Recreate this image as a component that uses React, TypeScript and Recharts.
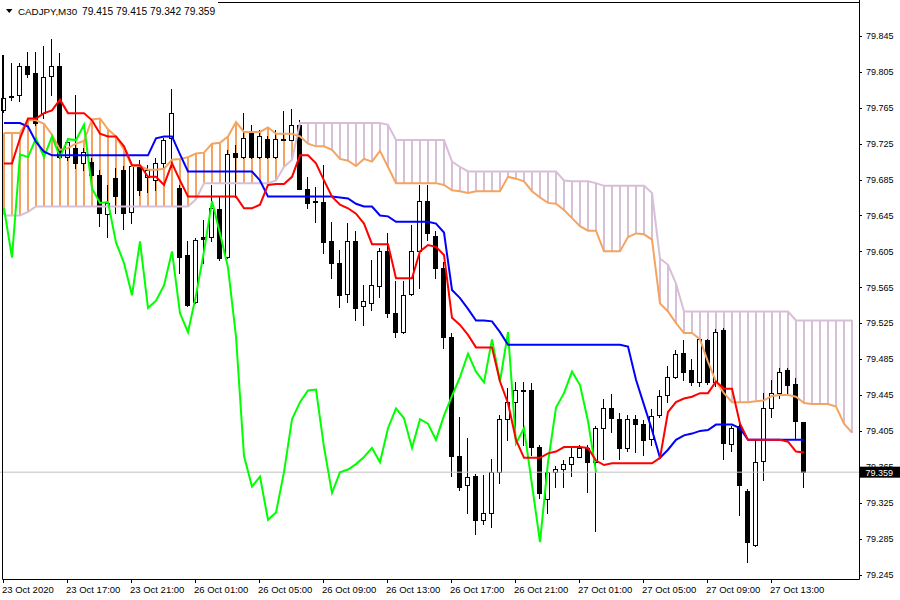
import React from "react";
import { ComposedChart, Bar, Line, XAxis, YAxis, ReferenceLine } from "recharts";

// CADJPY M30 candles (bar 0 = 23 Oct 13:00)
const opens = [
  79.763, 79.777, 79.779, 79.811, 79.804, 79.759, 79.800, 79.812, 79.710, 79.720,
  79.703, 79.705, 79.690, 79.647, 79.687, 79.696, 79.649, 79.700, 79.688, 79.684,
  79.703, 79.731, 79.676, 79.601, 79.549, 79.621, 79.621, 79.652, 79.599, 79.715,
  79.710, 79.737, 79.710, 79.730, 79.710, 79.730, 79.729, 79.746, 79.675, 79.661,
  79.660, 79.616, 79.592, 79.557, 79.616, 79.544, 79.547, 79.566, 79.605, 79.536,
  79.515, 79.557, 79.605, 79.661, 79.622, 79.586, 79.510, 79.377, 79.345, 79.355,
  79.306, 79.314, 79.359, 79.418, 79.437, 79.449, 79.451, 79.387, 79.329, 79.359,
  79.362, 79.368, 79.376, 79.386, 79.370, 79.408, 79.430, 79.418, 79.386, 79.418,
  79.413, 79.396, 79.423, 79.445, 79.465, 79.492, 79.473, 79.459, 79.506, 79.460,
  79.517, 79.390, 79.411, 79.338, 79.278, 79.372, 79.430, 79.447, 79.473, 79.457,
  79.415,
];
const highs = [
  79.824, 79.815, 79.815, 79.827, 79.827, 79.834, 79.842, 79.826, 79.731, 79.779,
  79.720, 79.709, 79.696, 79.679, 79.698, 79.700, 79.705, 79.707, 79.701, 79.709,
  79.731, 79.786, 79.679, 79.616, 79.620, 79.640, 79.679, 79.666, 79.718, 79.723,
  79.759, 79.746, 79.740, 79.733, 79.740, 79.761, 79.764, 79.751, 79.688, 79.677,
  79.701, 79.638, 79.606, 79.637, 79.628, 79.567, 79.595, 79.609, 79.626, 79.572,
  79.572, 79.634, 79.679, 79.679, 79.628, 79.593, 79.514, 79.420, 79.397, 79.357,
  79.356, 79.374, 79.423, 79.453, 79.460, 79.459, 79.458, 79.389, 79.363, 79.366,
  79.373, 79.386, 79.389, 79.389, 79.411, 79.441, 79.446, 79.425, 79.423, 79.423,
  79.417, 79.429, 79.451, 79.477, 79.495, 79.506, 79.485, 79.508, 79.507, 79.518,
  79.520, 79.411, 79.414, 79.340, 79.395, 79.447, 79.462, 79.475, 79.475, 79.464,
  79.415,
];
const lows = [
  79.760, 79.774, 79.772, 79.799, 79.746, 79.754, 79.779, 79.709, 79.707, 79.698,
  79.696, 79.684, 79.633, 79.621, 79.648, 79.630, 79.637, 79.668, 79.671, 79.673,
  79.699, 79.699, 79.581, 79.544, 79.548, 79.592, 79.617, 79.595, 79.598, 79.666,
  79.709, 79.709, 79.709, 79.709, 79.709, 79.729, 79.729, 79.675, 79.653, 79.638,
  79.603, 79.575, 79.543, 79.549, 79.528, 79.523, 79.540, 79.554, 79.532, 79.510,
  79.514, 79.556, 79.564, 79.618, 79.575, 79.497, 79.355, 79.339, 79.314, 79.290,
  79.301, 79.298, 79.347, 79.395, 79.393, 79.389, 79.378, 79.330, 79.313, 79.343,
  79.343, 79.355, 79.376, 79.337, 79.293, 79.374, 79.404, 79.374, 79.383, 79.381,
  79.378, 79.389, 79.420, 79.437, 79.464, 79.462, 79.456, 79.455, 79.457, 79.455,
  79.374, 79.383, 79.311, 79.259, 79.277, 79.350, 79.421, 79.442, 79.447, 79.397,
  79.342,
];
const closes = [
  79.776, 79.778, 79.812, 79.803, 79.748, 79.799, 79.812, 79.710, 79.727, 79.703,
  79.716, 79.690, 79.648, 79.659, 79.667, 79.648, 79.700, 79.673, 79.696, 79.703,
  79.729, 79.759, 79.599, 79.545, 79.618, 79.619, 79.653, 79.598, 79.713, 79.710,
  79.731, 79.710, 79.733, 79.710, 79.730, 79.729, 79.746, 79.675, 79.659, 79.660,
  79.615, 79.592, 79.556, 79.616, 79.542, 79.550, 79.567, 79.605, 79.536, 79.515,
  79.556, 79.605, 79.661, 79.625, 79.587, 79.510, 79.377, 79.343, 79.354, 79.306,
  79.314, 79.359, 79.418, 79.437, 79.450, 79.451, 79.387, 79.336, 79.359, 79.362,
  79.368, 79.376, 79.386, 79.370, 79.408, 79.430, 79.419, 79.386, 79.418, 79.413,
  79.395, 79.422, 79.444, 79.465, 79.491, 79.471, 79.459, 79.507, 79.460, 79.515,
  79.391, 79.408, 79.345, 79.281, 79.370, 79.431, 79.447, 79.471, 79.456, 79.416,
  79.359,
];

// Ichimoku lines as drawn on the chart
const tenkan = [
  79.703, 79.703, 79.731, 79.753, 79.753, 79.759, 79.762, 79.774, 79.759, 79.759,
  79.759, 79.751, 79.736, 79.733, 79.733, 79.722, 79.701, 79.701, 79.688, 79.688,
  79.679, 79.703, 79.684, 79.666, 79.666, 79.666, 79.666, 79.666, 79.666, 79.666,
  79.653, 79.653, 79.657, 79.679, 79.680, 79.680, 79.688, 79.712, 79.712, 79.703,
  79.684, 79.666, 79.657, 79.653, 79.647, 79.636, 79.613, 79.613, 79.613, 79.575,
  79.575, 79.575, 79.605, 79.612, 79.610, 79.601, 79.531, 79.523, 79.512, 79.498,
  79.498, 79.498, 79.460, 79.436, 79.395, 79.375, 79.375, 79.375, 79.380, 79.382,
  79.387, 79.387, 79.387, 79.386, 79.372, 79.367, 79.369, 79.369, 79.369, 79.369,
  79.369, 79.369, 79.375, 79.426, 79.437, 79.441, 79.443, 79.447, 79.447, 79.460,
  79.452, 79.452, 79.413, 79.395, 79.395, 79.395, 79.395, 79.395, 79.393, 79.382,
  79.381,
];
const kijun = [
  79.748, 79.748, 79.748, 79.744, 79.727, 79.716, 79.712, 79.712, 79.712, 79.712,
  79.712, 79.712, 79.712, 79.712, 79.712, 79.712, 79.712, 79.712, 79.712, 79.731,
  79.733, 79.733, 79.713, 79.694, 79.694, 79.694, 79.694, 79.694, 79.694, 79.694,
  79.694, 79.694, 79.684, 79.666, 79.666, 79.666, 79.666, 79.666, 79.666, 79.666,
  79.666, 79.666, 79.665, 79.664, 79.658, 79.655, 79.655, 79.645, 79.644, 79.638,
  79.638, 79.638, 79.638, 79.638, 79.636, 79.626, 79.562, 79.553, 79.541, 79.528,
  79.528, 79.527, 79.515, 79.501, 79.501, 79.501, 79.501, 79.501, 79.501, 79.501,
  79.501, 79.501, 79.501, 79.501, 79.501, 79.501, 79.501, 79.501, 79.499, 79.462,
  79.434, 79.406, 79.375, 79.384, 79.395, 79.400, 79.402, 79.405, 79.406, 79.412,
  79.412, 79.412, 79.408, 79.395, 79.395, 79.395, 79.395, 79.395, 79.395, 79.395,
  79.395,
];
const spanA = [
  79.737, 79.737, 79.737, 79.751, 79.751, 79.747, 79.735, 79.718, 79.720, 79.725,
  79.728, 79.752, 79.753, 79.741, 79.733, 79.718, 79.700, 79.700, 79.696, 79.696,
  79.697, 79.707, 79.708, 79.710, 79.714, 79.715, 79.725, 79.726, 79.733, 79.749,
  79.738, 79.738, 79.738, 79.743, 79.736, 79.736, 79.736, 79.733, 79.725, 79.722,
  79.722, 79.718, 79.708, 79.706, 79.700, 79.708, 79.705, 79.717, 79.699, 79.681,
  79.681, 79.681, 79.681, 79.681, 79.681, 79.679, 79.673, 79.672, 79.670, 79.672,
  79.672, 79.672, 79.672, 79.688, 79.686, 79.683, 79.672, 79.665, 79.659, 79.658,
  79.651, 79.642, 79.633, 79.628, 79.628, 79.605, 79.605, 79.605, 79.621, 79.625,
  79.624, 79.618, 79.547, 79.538, 79.525, 79.514, 79.514, 79.507, 79.482, 79.460,
  79.447, 79.437, 79.437, 79.437, 79.438, 79.439, 79.444, 79.445, 79.445, 79.443,
  79.436, 79.435, 79.435, 79.435, 79.432, 79.413, 79.403,
];
const spanB = [
  79.645, 79.645, 79.645, 79.649, 79.655, 79.655, 79.655, 79.655, 79.655, 79.655,
  79.655, 79.655, 79.655, 79.655, 79.655, 79.655, 79.655, 79.655, 79.655, 79.655,
  79.655, 79.655, 79.655, 79.655, 79.663, 79.681, 79.681, 79.681, 79.681, 79.681,
  79.681, 79.681, 79.681, 79.681, 79.684, 79.699, 79.707, 79.748, 79.748, 79.748,
  79.748, 79.748, 79.748, 79.748, 79.748, 79.748, 79.748, 79.748, 79.746, 79.729,
  79.729, 79.729, 79.729, 79.729, 79.729, 79.729, 79.705, 79.699, 79.694, 79.694,
  79.694, 79.694, 79.694, 79.694, 79.694, 79.694, 79.694, 79.694, 79.694, 79.694,
  79.684, 79.683, 79.683, 79.683, 79.681, 79.678, 79.678, 79.678, 79.678, 79.678,
  79.678, 79.670, 79.597, 79.590, 79.569, 79.538, 79.538, 79.538, 79.538, 79.538,
  79.538, 79.538, 79.538, 79.538, 79.538, 79.538, 79.538, 79.538, 79.538, 79.528,
  79.528, 79.528, 79.528, 79.528, 79.528, 79.528, 79.528,
];

const timeLabels = [
  "23 Oct 2020", "23 Oct 17:00", "23 Oct 21:00", "26 Oct 01:00", "26 Oct 05:00",
  "26 Oct 09:00", "26 Oct 13:00", "26 Oct 17:00", "26 Oct 21:00", "27 Oct 01:00",
  "27 Oct 05:00", "27 Oct 09:00", "27 Oct 13:00",
];
const priceTicks = [
  79.245, 79.285, 79.325, 79.365, 79.405, 79.445, 79.485, 79.525,
  79.565, 79.605, 79.645, 79.685, 79.725, 79.765, 79.805, 79.845,
];

const CHIKOU_SHIFT = 26;
const last = closes.length - 1;
const lastClose = closes[last];
const FONT = "'Liberation Sans', Arial, sans-serif";

const rows = spanA.map((a, i) => ({
  i,
  o: i <= last ? opens[i] : null,
  h: i <= last ? highs[i] : null,
  l: i <= last ? lows[i] : null,
  c: i <= last ? closes[i] : null,
  tenkan: i <= last ? tenkan[i] : null,
  kijun: i <= last ? kijun[i] : null,
  chikou: i + CHIKOU_SHIFT <= last ? closes[i + CHIKOU_SHIFT] : null,
  spanA: a,
  spanB: spanB[i],
}));

function barRange(d: any): [number, number] {
  const v = [d.spanA, d.spanB];
  if (d.h != null) v.push(d.h, d.l);
  return [Math.min(...v), Math.max(...v)];
}

// one bar per slot: cloud hatch line, then the candle on top of it
function CandleCloud(props: any) {
  const { x, y, width, height, payload } = props;
  if (!payload || !height) return null;
  const [lo, hi] = barRange(payload);
  const top = Math.min(y, y + height);
  const k = Math.abs(height) / (hi - lo);
  const py = (p: number) => Math.round(top + (hi - p) * k);
  const cx = Math.round(x + width / 2);
  const out: any[] = [];
  const a = payload.spanA, b = payload.spanB;
  if (a !== b) {
    const y1 = py(Math.max(a, b)), y2 = py(Math.min(a, b));
    out.push(<rect key="cl" x={cx - 1} y={y1} width={2} height={Math.max(1, y2 - y1)} fill={a > b ? "#f4a460" : "#d8bfd8"} shapeRendering="crispEdges" />);
  }
  if (payload.h != null) {
    const yh = py(payload.h), yl = py(payload.l), yo = py(payload.o), yc = py(payload.c);
    out.push(<rect key="wk" x={cx - 1} y={yh} width={1} height={yl - yh + 1} fill="#000" shapeRendering="crispEdges" />);
    const bt = Math.min(yo, yc), bb = Math.max(yo, yc);
    if (payload.c > payload.o) {
      out.push(<rect key="bd" x={cx - 2.5} y={bt + 0.5} width={4} height={Math.max(1, bb - bt)} fill="#fff" stroke="#000" strokeWidth={1} />);
    } else {
      out.push(<rect key="bd" x={cx - 3} y={bt} width={5} height={Math.max(1, bb - bt + 1)} fill="#000" shapeRendering="crispEdges" />);
    }
  }
  return <g>{out}</g>;
}

const TimeTick = ({ x, y, payload }: any) => {
  const label = timeLabels[payload.value / 8];
  if (!label) return null;
  return (
    <g>
      <line x1={x - 0.5} y1={y} x2={x - 0.5} y2={y + 4} stroke="#000" />
      <text x={x - 2} y={y + 13.5} fontSize={9.5} fontFamily={FONT} fill="#000">{label}</text>
    </g>
  );
};

const PriceTick = ({ x, y, payload }: any) => {
  if (payload.value === lastClose) {
    return (
      <g>
        <line x1={x} y1={y} x2={x + 3} y2={y} stroke="#c0c0c0" />
        <rect x={x + 4} y={y - 5.5} width={40} height={11} fill="#000" />
        <text x={x + 9.5} y={y + 3.5} fontSize={9} fontFamily={FONT} fill="#fff">{lastClose.toFixed(3)}</text>
      </g>
    );
  }
  const ly = Math.round(y) + 0.5;
  return (
    <g>
      <line x1={x + 3} y1={ly} x2={x + 6} y2={ly} stroke="#000" />
      <text x={x + 10} y={y + 3.3} fontSize={9} fontFamily={FONT} fill="#000">{payload.value.toFixed(3)}</text>
    </g>
  );
};

export default function App() {
  return (
    <div style={{ position: "absolute", left: 0, top: 0, width: 900, height: 600, background: "#fff" }}>
      <ComposedChart width={900} height={600} data={rows} margin={{ top: 2, right: 0, bottom: 0, left: 0 }} barCategoryGap={0}>
        <XAxis dataKey="i" type="category" interval={7} height={21} axisLine={false} tickLine={false} tickSize={0} tickMargin={0} tick={<TimeTick />} />
        <YAxis orientation="right" type="number" domain={[79.24, 79.8828]} allowDataOverflow ticks={[...priceTicks, lastClose]} interval={0} width={44} axisLine={false} tickLine={false} tickSize={0} tickMargin={0} tick={<PriceTick />} />
        <ReferenceLine y={lastClose} stroke="#c0c0c0" strokeWidth={1} />
        <Bar dataKey={barRange} barSize={8} shape={(p: any) => <CandleCloud {...p} />} isAnimationActive={false} />
        <Line dataKey="spanB" type="linear" stroke="#d8bfd8" strokeWidth={2} dot={false} activeDot={false} isAnimationActive={false} />
        <Line dataKey="spanA" type="linear" stroke="#f4a460" strokeWidth={2} dot={false} activeDot={false} isAnimationActive={false} />
        <Line dataKey="chikou" type="linear" stroke="#00ff00" strokeWidth={2} dot={false} activeDot={false} isAnimationActive={false} />
        <Line dataKey="kijun" type="linear" stroke="#0000ff" strokeWidth={2} dot={false} activeDot={false} isAnimationActive={false} />
        <Line dataKey="tenkan" type="linear" stroke="#ff0000" strokeWidth={2} dot={false} activeDot={false} isAnimationActive={false} />
      </ComposedChart>
      <svg width={900} height={600} style={{ position: "absolute", left: 0, top: 0, pointerEvents: "none" }}>
        <g stroke="#000" strokeWidth={1} fill="none">
          <line x1={218} y1={2.5} x2={859.5} y2={2.5} />
          <line x1={859.5} y1={0} x2={859.5} y2={579.5} />
          <line x1={2.5} y1={579.5} x2={859.5} y2={579.5} />
          <line x1={2.5} y1={55} x2={2.5} y2={579.5} />
        </g>
        <polygon points="6,9 12.5,9 9.25,13" fill="#000" />
        <text x={18} y={14.5} fontSize={9.8} fontFamily={FONT} fill="#000">CADJPY,M30</text>
        <text x={82} y={14.5} fontSize={10.2} fontFamily={FONT} fill="#000">
          {[opens[last], highs[last], lows[last], closes[last]].map((v) => v.toFixed(3)).join(" ")}
        </text>
      </svg>
    </div>
  );
}
